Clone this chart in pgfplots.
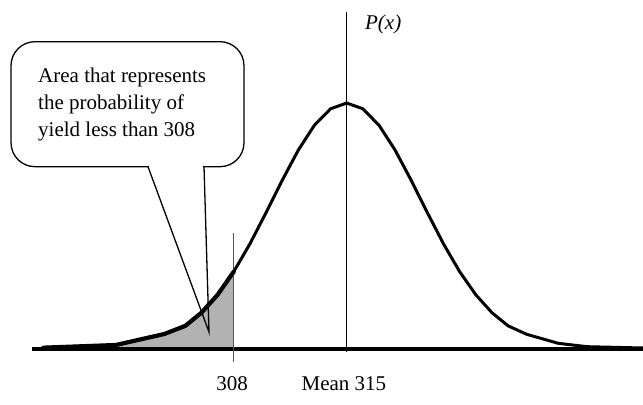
\documentclass[border=0pt]{standalone}
\usepackage{fontspec}
\setmainfont{Liberation Serif}
\usepackage{pgfplots}
\pgfplotsset{compat=1.18}
\definecolor{areagray}{RGB}{178,178,178}
\definecolor{linegray}{RGB}{85,85,85}
\begin{document}
\begin{tikzpicture}
\useasboundingbox (0,0) rectangle (643bp,405bp);
\begin{axis}[at={(0,0)},anchor=south west,scale only axis,
  width=643bp,height=405bp,
  xmin=293.519,xmax=333.358,ymin=-0.01974,ymax=0.12302,
  hide axis,clip=false]
% shaded area: P(yield < 308)
\addplot[fill=areagray,draw=none] coordinates {
 (296.2,0.00046) (300.7,0.00141) (303.7,0.00529) (305,0.00816)
 (306,0.01279) (307,0.01911) (308,0.02724)} \closedcycle;
% x axis line
\addplot[black,line width=3.6bp] coordinates {(295.48,0) (333.358,0)};
% 308 marker line
\addplot[linegray,line width=1.3bp] coordinates {(308,-0.00458) (308,0.04089)};
% mean line
\addplot[black,line width=1.2bp] coordinates {(315,-0.00106) (315,0.11879)};
% normal curve
\addplot[black,line width=3bp,line join=round] coordinates {
 (296.2,0.00046) (300.7,0.00141) (303.7,0.00529) (305,0.00816)
 (306,0.01279) (307,0.01911) (308,0.02724) (309,0.03703)
 (310,0.04803) (311,0.05941) (312,0.07009) (313,0.07888)
 (314,0.08467) (315,0.08670) (316,0.08467) (317,0.07888)
 (318,0.07009) (319,0.05941) (320,0.04803) (321,0.03703)
 (322,0.02724) (323,0.01911) (324,0.01279) (325,0.00816)
 (326.15,0.00518) (328.1,0.00201) (329.9,0.00081) (333.358,0.00035)};
% heavier outline of the shaded tail
\addplot[black,line width=4.2bp,line join=round,line cap=round] coordinates {
 (296.2,0.00046) (300.7,0.00141) (303.7,0.00529) (305,0.00816)
 (306,0.01279) (307,0.01911) (308,0.02724)};
% labels
\node[anchor=base,inner sep=0,font=\fontsize{21bp}{25bp}\selectfont] at (axis cs:307.9,-0.0148) {308};
\node[anchor=base,inner sep=0,font=\fontsize{21bp}{25bp}\selectfont] at (axis cs:314.83,-0.0148) {Mean 315};
\node[anchor=base west,inner sep=0,font=\fontsize{21bp}{25bp}\selectfont] at (axis cs:316.13,0.11245) {\textit{P(x)}};
\end{axis}
\begin{scope}[shift={(0,405bp)},x=1bp,y=-1bp]
  \draw[line width=1.3bp,fill=white,rounded corners=24bp] (11,41.7) rectangle (244,166.7);
  \draw[white,line width=2.5bp] (149,166.7) -- (203,166.7);
  \draw[line width=1.3bp,line join=miter] (148,166.7) -- (209,332) -- (204,166.7);
  \begin{scope}[every node/.style={anchor=base west,inner sep=0,font=\fontsize{21bp}{25bp}\selectfont}]
    \node at (38,82.7) {Area that represents};
    \node at (38,110) {the probability of};
    \node at (38,136.3) {yield less than 308};
  \end{scope}
\end{scope}
\end{tikzpicture}
\end{document}
